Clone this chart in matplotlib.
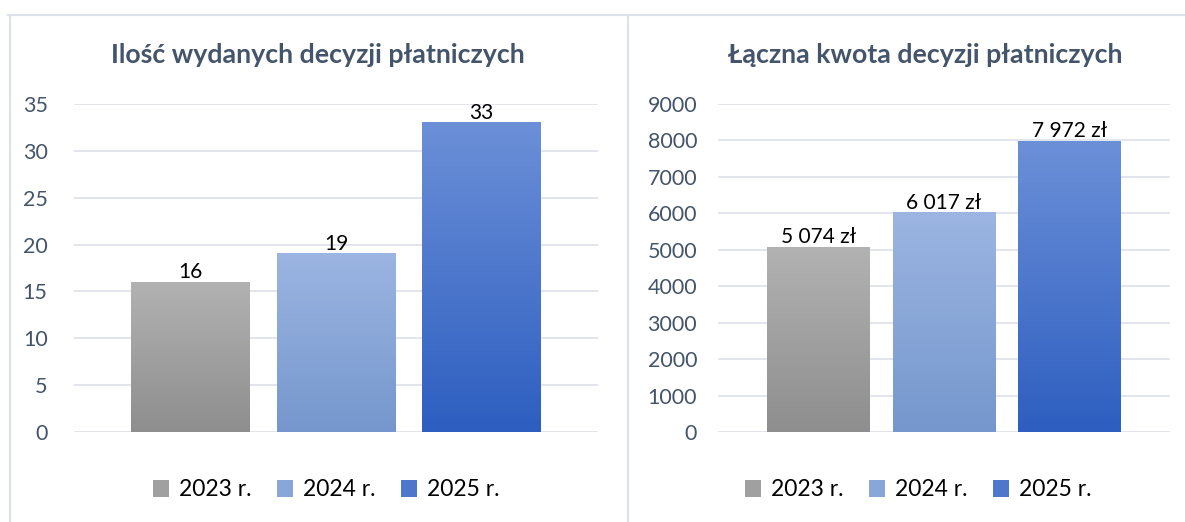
import matplotlib.pyplot as plt
import numpy as np
from matplotlib.colors import LinearSegmentedColormap
from matplotlib.lines import Line2D
from matplotlib.patches import Patch

plt.rcParams['font.family'] = ['Lato', 'DejaVu Sans']

years = ["2023 r.", "2024 r.", "2025 r."]
count_values = [16, 19, 33]
amount_values = [5074, 6017, 7972]

count_title = "Ilość wydanych decyzji płatniczych"
amount_title = "Łączna kwota decyzji płatniczych"

# top/bottom colour of each bar's gradient
grads = [("#b2b2b2", "#8e8e8e"), ("#9cb5e2", "#7597cd"), ("#6c90d8", "#2d5ec0")]
TXT = "#44546a"
GRID = "#dfe3ea"


def fmt_zl(v):
    return "{:,} zł".format(v).replace(",", " ")


def grad_bars(ax, values, labels, ymax, step):
    x = np.arange(len(values))
    bars = ax.bar(x, values, width=0.815, color="none", zorder=3)
    for b, (top, bot) in zip(bars, grads):
        cmap = LinearSegmentedColormap.from_list("g", [bot, top])
        g = np.linspace(0, 1, 256).reshape(-1, 1)
        ax.imshow(g, cmap=cmap, origin="lower", aspect="auto", zorder=3,
                  extent=[b.get_x(), b.get_x() + b.get_width(), 0, b.get_height()])
    for b, lab in zip(bars, labels):
        ax.text(b.get_x() + b.get_width() / 2, b.get_height(), lab,
                ha="center", va="bottom", fontsize=15, color="black", zorder=4)
    ax.set_xlim(-0.8, 2.8)
    ax.set_ylim(0, ymax)
    ax.set_yticks(np.arange(0, ymax + 1, step))
    ax.set_xticks([])
    ax.grid(axis="y", color=GRID, linewidth=1.3, zorder=0)
    ax.set_axisbelow(True)
    for s in ax.spines.values():
        s.set_visible(False)
    ax.tick_params(axis="y", length=0, labelsize=15.5, labelcolor=TXT)


fig = plt.figure(figsize=(11.85, 5.22), dpi=100)
W, H = 1185, 522

ax1 = fig.add_axes([74 / W, 1 - 432 / H, 524 / W, 328 / H])
grad_bars(ax1, count_values, [str(v) for v in count_values], 35, 5)
ax1.tick_params(axis="y", pad=19)

ax2 = fig.add_axes([718 / W, 1 - 432 / H, 452 / W, 328 / H])
grad_bars(ax2, amount_values, [fmt_zl(v) for v in amount_values], 9000, 1000)
ax2.tick_params(axis="y", pad=15)

fig.text(318 / W, 1 - 55 / H, count_title, ha="center", va="center",
         fontsize=19.3, fontweight="bold", color=TXT)
fig.text(925 / W, 1 - 55 / H, amount_title, ha="center", va="center",
         fontsize=19.3, fontweight="bold", color=TXT)

handles = [Patch(facecolor=LinearSegmentedColormap.from_list("g", [b, t])(0.5))
           for t, b in grads]
for cx in (326, 918):
    fig.legend(handles, years, loc="center", bbox_to_anchor=(cx / W, 1 - 490 / H),
               ncol=3, frameon=False, fontsize=16.5, handlelength=0.7,
               handleheight=0.7, handletextpad=0.45, columnspacing=1.1)

# panel frames
frame = dict(color="#dde2e8", linewidth=1.5)
fig.add_artist(Line2D([8 / W, 1], [1 - 15 / H, 1 - 15 / H], **frame))
fig.add_artist(Line2D([10 / W, 10 / W], [0, 1 - 15 / H], **frame))
fig.add_artist(Line2D([628 / W, 628 / W], [0, 1 - 15 / H], **frame))

fig.savefig("out.png", dpi=100)
